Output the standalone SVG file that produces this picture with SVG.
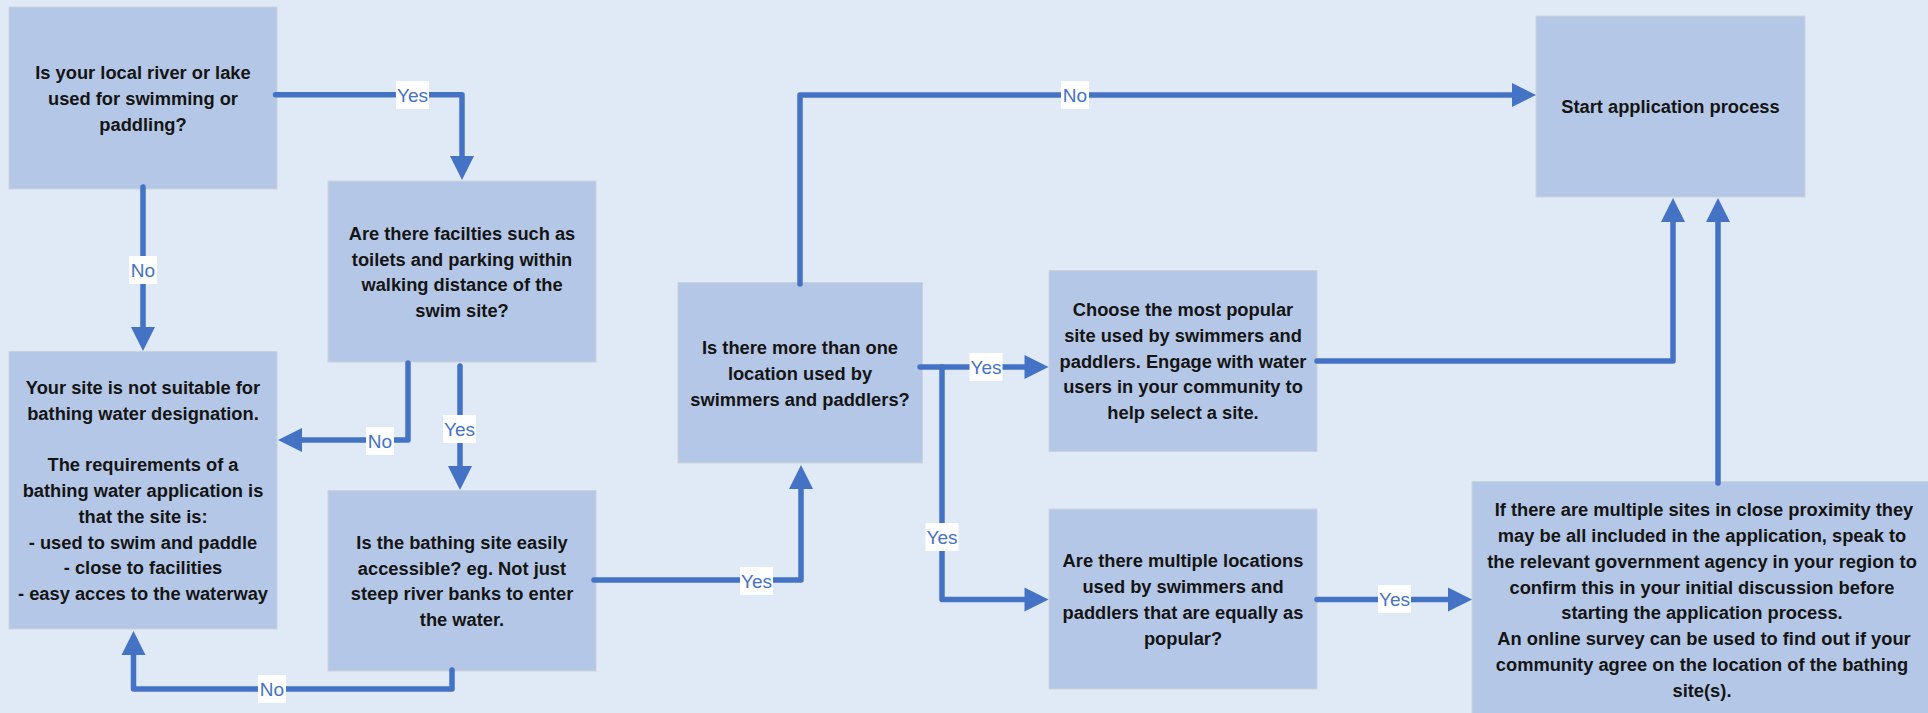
<svg xmlns="http://www.w3.org/2000/svg" width="1928" height="713" viewBox="0 0 1928 713">
<style>
.bg{fill:#e0eaf6}
.box{fill:#b4c7e7;stroke:#cdd2da;stroke-width:1}
.t{font-family:"Liberation Sans",Arial,sans-serif;font-weight:bold;font-size:18.3px;fill:#141414;text-anchor:middle}
.c{fill:none;stroke:#4472c4;stroke-width:5.5;stroke-linecap:round;stroke-linejoin:round}
.lb{fill:#ffffff}
.lt{font-family:"Liberation Sans",Arial,sans-serif;font-size:19px;fill:#4472c4;text-anchor:middle}
</style>
<defs>
<marker id="ah" markerUnits="userSpaceOnUse" markerWidth="25" markerHeight="25" refX="0" refY="12" orient="auto" overflow="visible">
<path d="M0,0 L24,12 L0,24 z" fill="#4472c4"/>
</marker>
</defs>
<rect class="bg" x="0" y="0" width="1928" height="713"/>

<g id="n1"><rect class="box" x="9" y="7" width="268" height="182"/>
<text class="t" x="143"><tspan x="143" y="79.2">Is your local river or lake</tspan><tspan x="143" y="105">used for swimming or</tspan><tspan x="143" y="130.8">paddling?</tspan></text></g>

<g id="n2"><rect class="box" x="328" y="181" width="268" height="181"/>
<text class="t"><tspan x="462" y="239.8">Are there facilties such as</tspan><tspan x="462" y="265.6">toilets and parking within</tspan><tspan x="462" y="291.4">walking distance of the</tspan><tspan x="462" y="317.2">swim site?</tspan></text></g>

<g id="n3"><rect class="box" x="9" y="351.5" width="268" height="277.5"/>
<text class="t"><tspan x="143" y="393.8">Your site is not suitable for</tspan><tspan x="143" y="419.6">bathing water designation.</tspan><tspan x="143" y="471.2">The requirements of a</tspan><tspan x="143" y="497">bathing water application is</tspan><tspan x="143" y="522.8">that the site is:</tspan><tspan x="143" y="548.6">- used to swim and paddle</tspan><tspan x="143" y="574.4">- close to facilities</tspan><tspan x="143" y="600.2">- easy acces to the waterway</tspan></text></g>

<g id="n4"><rect class="box" x="328" y="490.5" width="268" height="180.5"/>
<text class="t"><tspan x="462" y="548.8">Is the bathing site easily</tspan><tspan x="462" y="574.6">accessible? eg. Not just</tspan><tspan x="462" y="600.4">steep river banks to enter</tspan><tspan x="462" y="626.2">the water.</tspan></text></g>

<g id="n5"><rect class="box" x="678" y="282.5" width="244.5" height="180.5"/>
<text class="t"><tspan x="800" y="354.2">Is there more than one</tspan><tspan x="800" y="380">location used by</tspan><tspan x="800" y="405.8">swimmers and paddlers?</tspan></text></g>

<g id="n6"><rect class="box" x="1049" y="270.5" width="268" height="181"/>
<text class="t"><tspan x="1183" y="315.9">Choose the most popular</tspan><tspan x="1183" y="341.7">site used by swimmers and</tspan><tspan x="1183" y="367.5">paddlers. Engage with water</tspan><tspan x="1183" y="393.3">users in your community to</tspan><tspan x="1183" y="419.1">help select a site.</tspan></text></g>

<g id="n7"><rect class="box" x="1049" y="509" width="268" height="180"/>
<text class="t"><tspan x="1183" y="567.3">Are there multiple locations</tspan><tspan x="1183" y="593.1">used by swimmers and</tspan><tspan x="1183" y="618.9">paddlers that are equally as</tspan><tspan x="1183" y="644.7">popular?</tspan></text></g>

<g id="n8"><rect class="box" x="1536" y="16" width="269" height="181"/>
<text class="t"><tspan x="1670.5" y="113.2">Start application process</tspan></text></g>

<g id="n9"><rect class="box" x="1472" y="481.5" width="460" height="237"/>
<text class="t"><tspan x="1704" y="516.2">If there are multiple sites in close proximity they</tspan><tspan x="1702" y="542">may be all included in the application, speak to</tspan><tspan x="1702" y="567.8">the relevant government agency in your region to</tspan><tspan x="1702" y="593.6">confirm this in your initial discussion before</tspan><tspan x="1702" y="619.4">starting the application process.</tspan><tspan x="1704" y="645.2">An online survey can be used to find out if your</tspan><tspan x="1702" y="671">community agree on the location of the bathing</tspan><tspan x="1702" y="696.8">site(s).</tspan></text></g>

<g id="connectors">
<path class="c" d="M275.5,94.7 H462 V156" marker-end="url(#ah)"/>
<path class="c" d="M143,187 V327" marker-end="url(#ah)"/>
<path class="c" d="M408,363 V440 H302" marker-end="url(#ah)"/>
<path class="c" d="M460,366 V466" marker-end="url(#ah)"/>
<path class="c" d="M452,670 V689 H133.5 V655" marker-end="url(#ah)"/>
<path class="c" d="M594,580 H801 V489" marker-end="url(#ah)"/>
<path class="c" d="M800,284 V95 H1512" marker-end="url(#ah)"/>
<path class="c" d="M920,367 H1024.5" marker-end="url(#ah)"/>
<path class="c" d="M942,367 V599.5 H1024.5" marker-end="url(#ah)"/>
<path class="c" d="M1317,361 H1673 V222" marker-end="url(#ah)"/>
<path class="c" d="M1317,599.5 H1448" marker-end="url(#ah)"/>
<path class="c" d="M1718,483 V222" marker-end="url(#ah)"/>
<g id="labels">
<rect class="lb" x="396" y="81" width="33" height="28"/><text class="lt" x="412.5" y="101.5">Yes</text>
<rect class="lb" x="129" y="256" width="28" height="28"/><text class="lt" x="143" y="276.5">No</text>
<rect class="lb" x="366" y="427" width="28" height="28"/><text class="lt" x="380" y="447.5">No</text>
<rect class="lb" x="443" y="415" width="33" height="28"/><text class="lt" x="459.5" y="435.5">Yes</text>
<rect class="lb" x="258" y="675" width="28" height="28"/><text class="lt" x="272" y="695.5">No</text>
<rect class="lb" x="740" y="567" width="33" height="28"/><text class="lt" x="756.5" y="587.5">Yes</text>
<rect class="lb" x="1061" y="81" width="28" height="28"/><text class="lt" x="1075" y="101.5">No</text>
<rect class="lb" x="969.5" y="353" width="33" height="28"/><text class="lt" x="986" y="373.5">Yes</text>
<rect class="lb" x="925.5" y="523" width="33" height="28"/><text class="lt" x="942" y="543.5">Yes</text>
<rect class="lb" x="1378" y="585" width="33" height="28"/><text class="lt" x="1394.5" y="605.5">Yes</text>
</g>
</g>
</svg>
